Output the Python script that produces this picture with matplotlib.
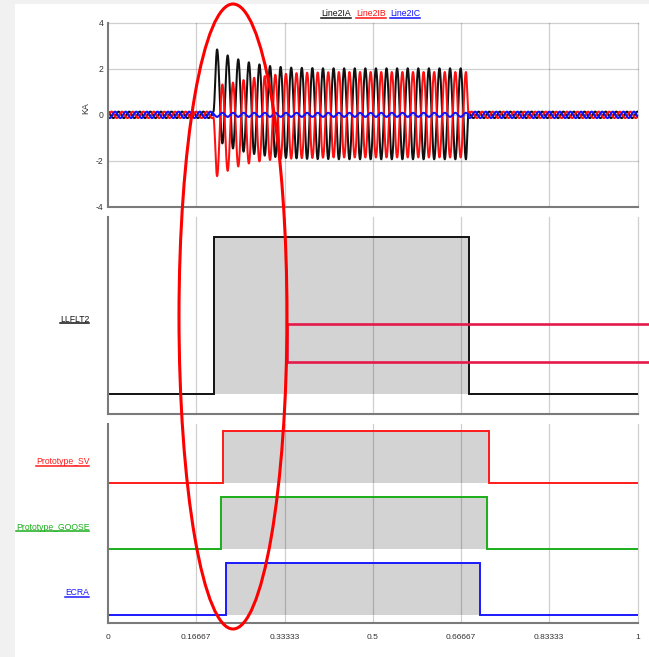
import numpy as np
import matplotlib
matplotlib.use("Agg")
import matplotlib.pyplot as plt
from matplotlib.patches import Ellipse, Rectangle
from matplotlib.lines import Line2D

plt.rcParams['font.family'] = ['Liberation Sans', 'DejaVu Sans']

W, H = 649, 657

# ---------------- data ----------------
xtick_vals = [0, 1 / 6, 2 / 6, 3 / 6, 4 / 6, 5 / 6, 1]
xtick_labels = ["0", "0.16667", "0.33333", "0.5", "0.66667", "0.83333", "1"]
ytick_vals = [-4, -2, 0, 2, 4]
ytick_labels = ["-4", "-2", "0", "2", "4"]

series_names = ["Line2IA", "Line2IB", "Line2IC"]
series_colors = ["#111111", "#ff1010", "#1010ff"]

freq_hz = 50.0
prefault_amp = 0.14          # kA, balanced load current before / after fault
fault_on = 0.199             # s
first_extreme = 0.206        # s, first fault-current extreme
fault_off = 0.681            # s
ic_fault_amp = 0.09          # kA, phase C during the fault

# per-cycle extremes (kA)
ia_peaks = [2.84, 2.58, 2.41, 2.28, 2.19, 2.12, 2.08, 2.05, 2.04, 2.03, 2.02, 2.02,
            2.02, 2.02, 2.02, 2.02, 2.02, 2.02, 2.02, 2.02, 2.02, 2.02, 2.02, 2.02]
ia_troughs = [-1.24, -1.46, -1.60, -1.70, -1.77, -1.83, -1.87, -1.89, -1.91, -1.92, -1.92, -1.93,
              -1.93, -1.93, -1.93, -1.93, -1.93, -1.93, -1.93, -1.93, -1.93, -1.93, -1.93, -1.93]
ib_troughs = [-2.66, -2.43, -2.24, -2.11, -2.02, -1.96, -1.92, -1.90, -1.88, -1.87, -1.86, -1.85,
              -1.85, -1.85, -1.85, -1.85, -1.85, -1.85, -1.85, -1.85, -1.85, -1.85, -1.85, -1.85]
ib_peaks = [1.32, 1.40, 1.51, 1.61, 1.68, 1.74, 1.78, 1.81, 1.83, 1.84, 1.85, 1.86,
            1.86, 1.86, 1.86, 1.86, 1.86, 1.86, 1.86, 1.86, 1.86, 1.86, 1.86, 1.86]

llflt_name = "LLFLT2"
llflt_on, llflt_off = 0.200, 0.681

channels = ["Prototype_SV", "Prototype_GOOSE", "ECRA"]
channel_on = [0.217, 0.214, 0.222]
channel_off = [0.720, 0.716, 0.703]
channel_colors = ["#ff1a1a", "#1aae1a", "#1a1aff"]

# annotation marks (hand-drawn in the reference)
mark_t, mark_hi, mark_lo = 0.338, 0.446, 0.204

# ---------------- helpers ----------------
def px_fig(x, y):
    return x / W, 1 - y / H


def knots_curve(times, vals, t):
    times = np.asarray(times)
    vals = np.asarray(vals)
    idx = np.clip(np.searchsorted(times, t, side='right') - 1, 0, len(times) - 2)
    ta, tb = times[idx], times[idx + 1]
    va, vb = vals[idx], vals[idx + 1]
    frac = np.clip((t - ta) / (tb - ta), 0, 1)
    return va + (vb - va) * (1 - np.cos(np.pi * frac)) / 2


t = np.linspace(0, 1, 8001)
w = 2 * np.pi * freq_hz
half = 0.5 / freq_hz
pre = [prefault_amp * np.cos(w * t + ph) for ph in (0.0, -2 * np.pi / 3, 2 * np.pi / 3)]
in_fault = (t >= fault_on) & (t <= fault_off)


def fault_wave(first_list, second_list, pre_fn_phase):
    ext = []
    for a, b in zip(first_list, second_list):
        ext += [a, b]
    ext_t = [first_extreme + k * half for k in range(len(ext))]
    v0 = prefault_amp * np.cos(w * fault_on + pre_fn_phase)
    v1 = prefault_amp * np.cos(w * fault_off + pre_fn_phase)
    kt = [fault_on] + ext_t + [fault_off]
    kv = [v0] + ext + [v1]
    return knots_curve(kt, kv, t)


ia = np.where(in_fault, fault_wave(ia_peaks, ia_troughs, 0.0), pre[0])
ib = np.where(in_fault, fault_wave(ib_troughs, ib_peaks, -2 * np.pi / 3), pre[1])
ic = np.where(in_fault, ic_fault_amp * np.cos(w * (t - first_extreme) + np.pi), pre[2])
currents = [ia, ib, ic]

# ---------------- figure ----------------
fig = plt.figure(figsize=(W / 100, H / 100), dpi=100, facecolor='#f1f1f1')
fig.add_artist(Rectangle(px_fig(15, 657), (W - 15) / W, (657 - 4) / H,
                         transform=fig.transFigure, facecolor='white',
                         edgecolor='none', zorder=-10))

L, R = 108, 637.5
def add_ax(top, bottom):
    return fig.add_axes([L / W, 1 - bottom / H, (R - L) / W, (bottom - top) / H])

ax1 = add_ax(22.7, 207)
ax2 = add_ax(217, 414)
ax3 = add_ax(424, 623)

spine_c = '#7a7a7a'
grid_kw = dict(color='black', alpha=0.19, lw=0.9, zorder=2)
for ax in (ax1, ax2, ax3):
    ax.set_xlim(0, 1)
    for s in ('top', 'right'):
        ax.spines[s].set_visible(False)
    for s in ('left', 'bottom'):
        ax.spines[s].set_color(spine_c)
        ax.spines[s].set_linewidth(1.5)
        ax.spines[s].set_zorder(6)
    for xv in xtick_vals[1:]:
        ax.axvline(xv, clip_on=False, **grid_kw)
    ax.set_xticks(xtick_vals)
    ax.tick_params(axis='x', length=0, labelbottom=False)

# --- top panel: currents
ax1.set_ylim(-4, 4)
ax1.set_yticks(ytick_vals)
ax1.set_yticklabels(ytick_labels)
ax1.tick_params(axis='y', length=0, pad=3, labelsize=6.2, labelcolor='#333333')
for yv in ytick_vals[1:]:
    ax1.axhline(yv, clip_on=False, **grid_kw)
for cur, col in zip(currents, series_colors):
    ax1.plot(t, cur, color=col, lw=1.45, zorder=4)
ax1.text(*px_fig(85.7, 108.5), "KA", transform=fig.transFigure, rotation=90,
         ha='center', va='center', fontsize=6.4, color='#333333')

# --- middle panel: LLFLT2
ax2.set_ylim(-0.1274, 1.1274)
ax2.set_yticks([])
ax2.fill_between([llflt_on, llflt_off], 0, 1, color='#d3d3d3', lw=0, zorder=1)
ax2.plot([0, llflt_on, llflt_on, llflt_off, llflt_off, 1], [0, 0, 1, 1, 0, 0],
         color='#111111', lw=1.4, zorder=4, solid_joinstyle='miter')
ax2.plot([mark_t, mark_t], [mark_lo, mark_hi], color='#e5194a', lw=1.9, zorder=5)
for yv in (mark_lo, mark_hi):
    ax2.plot([mark_t, (W - L) / (R - L)], [yv, yv], color='#e5194a', lw=1.9,
             zorder=5, clip_on=False, solid_capstyle='butt')

# --- bottom panel: channels
high = 0.79
ax3.set_ylim(-0.121, 2.894)
ax3.set_yticks([])
ax3.tick_params(axis='x', labelbottom=True, pad=8, labelsize=6.0, labelcolor='#333333')
ax3.set_xticklabels(xtick_labels)
n = len(channels)
for i, (name, on, off, col) in enumerate(zip(channels, channel_on, channel_off, channel_colors)):
    base = n - 1 - i
    ax3.fill_between([on, off], base, base + high, color='#d3d3d3', lw=0, zorder=1)
    ax3.plot([0, on, on, off, off, 1], [base, base, base + high, base + high, base, base],
             color=col, lw=1.4, zorder=4, solid_joinstyle='miter')

# ---------------- underlined labels ----------------
underlined = []
def ul_text(x_px, y_base_px, s, color, ha):
    txt = fig.text(*px_fig(x_px, y_base_px), s, ha=ha, va='baseline',
                   fontsize=6.2, color=color)
    underlined.append((txt, y_base_px + 1.6, color))

leg_x = [321, 356, 390]
for name, col, xp in zip(series_names, series_colors, leg_x):
    ul_text(xp, 16.5, name, col, 'left')

ul_text(89.3, 321.7, llflt_name, '#111111', 'right')
chan_base_px = [464, 529.5, 595]
for name, col, yp in zip(channels, channel_colors, chan_base_px):
    ul_text(89.3, yp, name, col, 'right')

fig.canvas.draw()
rend = fig.canvas.get_renderer()
inv = fig.transFigure.inverted()
for txt, ypx, col in underlined:
    bb = txt.get_window_extent(rend)
    x0 = inv.transform((bb.x0, 0))[0]
    x1 = inv.transform((bb.x1, 0))[0]
    yf = 1 - ypx / H
    fig.add_artist(Line2D([x0, x1], [yf, yf], transform=fig.transFigure,
                          color=col, lw=1.1))

# ---------------- hand-drawn ellipse ----------------
ell_c = (233, 316.5)
ell_w, ell_h = 108, 625
fig.add_artist(Ellipse(px_fig(*ell_c), ell_w / W, ell_h / H, transform=fig.transFigure,
                       fill=False, edgecolor='#ff0000', lw=2.2, zorder=20))

fig.savefig("out.png", dpi=100, facecolor=fig.get_facecolor())
